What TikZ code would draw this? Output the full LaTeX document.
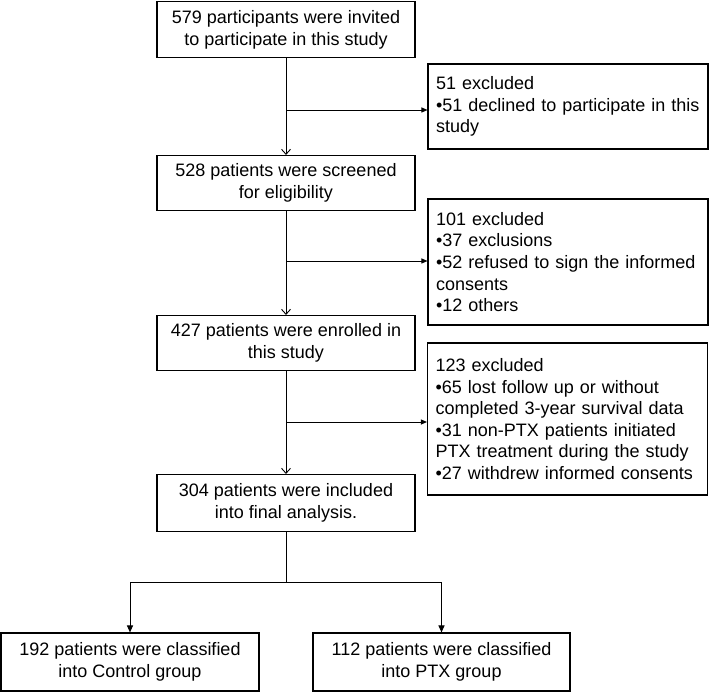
\documentclass[tikz,border=0pt]{standalone}
\usepackage{fontspec}
\setmainfont{Liberation Sans}
\usetikzlibrary{arrows.meta}
\begin{document}
\begin{tikzpicture}[x=1pt,y=-1pt,
  box/.style={draw, line width=1.1pt, inner sep=0pt, align=center, minimum height=#1,
    font={\fontsize{18}{21.8}\selectfont}},
  sidebox/.style={draw, line width=1.1pt, inner xsep=8pt, inner ysep=0pt, align=left,
    text width=264pt, minimum height=#1, font={\fontsize{18}{21.6}\selectfont}},
  varrow/.style={line width=0.9pt, -{Straight Barb[length=5pt,width=9pt,line width=0.9pt]}},
  harrow/.style={line width=0.9pt, -{Triangle[length=6pt,width=5pt]}},
  darrow/.style={line width=1pt, -{Triangle[length=7pt,width=6pt]}},
  plain/.style={line width=1pt}]
\useasboundingbox (0,0) rectangle (709,692);
\node[box=56pt, minimum width=258pt] (b1) at (286,29.5)
  {579 participants were invited\\to participate in this study};
\node[box=55pt, minimum width=258pt] (b2) at (286,183)
  {528 patients were screened\\for eligibility};
\node[box=55pt, minimum width=258pt] (b3) at (286,343)
  {427 patients were enrolled in\\this study};
\node[box=57pt, minimum width=258pt] (b4) at (286,503)
  {304 patients were included\\into final analysis.};
\node[sidebox=85pt] (r1) at (568,106.5)
  {51 excluded\\•51 declined to participate in this\\study};
\node[sidebox=126pt] (r2) at (568,262)
  {101 excluded\\•37 exclusions\\•52 refused to sign the informed\\consents\\•12 others};
\node[sidebox=152pt] (r3) at (567.5,419)
  {123 excluded\\•65 lost follow up or without\\completed 3-year survival data\\•31 non-PTX patients initiated\\PTX treatment during the study\\•27 withdrew informed consents};
\node[box=58pt, minimum width=258pt] (lb) at (130,662)
  {192 patients were classified\\into Control group};
\node[box=58pt, minimum width=257pt] (rb) at (441.5,662)
  {112 patients were classified\\into PTX group};
\coordinate (s) at (286,0);
\coordinate (h1) at (286,110);
\coordinate (h2) at (286,261);
\coordinate (h3) at (286,422);
\coordinate (j) at (286,582);
\draw[varrow] (b1.south -| s) -- (b2.north -| s);
\draw[varrow] (b2.south -| s) -- (b3.north -| s);
\draw[varrow] (b3.south -| s) -- (b4.north -| s);
\draw[harrow] (h1) -- (h1 -| r1.west);
\draw[harrow] (h2) -- (h2 -| r2.west);
\draw[harrow] (h3) -- (h3 -| r3.west);
\draw[plain] (b4.south -| j) -- (j);
\draw[plain] (j -| lb.north) -- (j -| rb.north);
\draw[darrow] (j -| lb.north) -- (lb.north);
\draw[darrow] (j -| rb.north) -- (rb.north);
\end{tikzpicture}
\end{document}
